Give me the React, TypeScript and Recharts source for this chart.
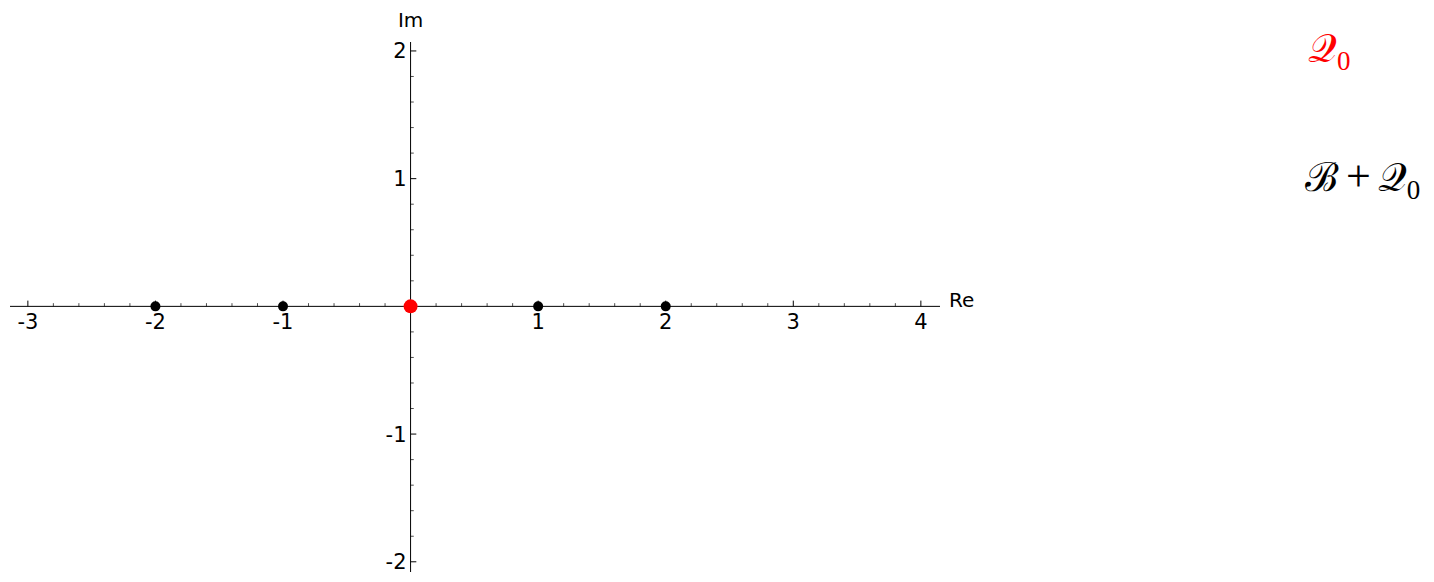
import { ReferenceDot, ReferenceLine, Scatter, ScatterChart, XAxis, YAxis } from "recharts";

// points on the real axis
const blackRe = [-2, -1, 1, 2];
const blackIm = [0, 0, 0, 0];
const redRe = [0];
const redIm = [0];

const xLabels = [-3, -2, -1, 1, 2, 3, 4];
const yLabels = [-2, -1, 1, 2];

const xDomain: [number, number] = [-3.14, 4.15];
const yDomain: [number, number] = [-2.08, 2.07];

const minorStep = 0.2;
const buildMinor = (from: number, to: number) => {
  const out: number[] = [];
  for (let i = Math.ceil(from / minorStep); i * minorStep <= to; i++) {
    const v = Number((i * minorStep).toFixed(2));
    if (v !== 0 && !Number.isInteger(v)) out.push(v);
  }
  return out;
};
const xMinor = buildMinor(-3, 4);
const yMinor = buildMinor(-2, 2);

const blackPoints = blackRe.map((re, i) => ({ re, im: blackIm[i] }));
const redPoints = redRe.map((re, i) => ({ re, im: redIm[i] }));

const FONT = "DejaVu Sans, sans-serif";
const MAJOR = 0.045;
const MINOR = 0.025;

// label drawn relative to the reference dot's position
const textAt = (text: string, dx: number, dy: number, anchor: "start" | "middle" | "end", size = 21) =>
  (props: any) => {
    const vb = props.viewBox || {};
    const cx = (vb.x ?? 0) + (vb.width ?? 0) / 2;
    const cy = (vb.y ?? 0) + (vb.height ?? 0) / 2;
    return (
      <text x={cx + dx} y={cy + dy} textAnchor={anchor} fontSize={size} fontFamily={FONT} fill="#000">
        {text}
      </text>
    );
  };

const mathStyle = {
  position: "absolute" as const,
  fontFamily: "DejaVu Serif, serif",
  fontSize: 40,
  lineHeight: 1,
  whiteSpace: "nowrap" as const,
};
const subStyle = { fontSize: 27, verticalAlign: -8, fontFamily: "Liberation Serif, serif" };

export default function App() {
  return (
    <div style={{ position: "absolute", left: 0, top: 0, width: 1434, height: 582, background: "#fff" }}>
      <ScatterChart width={1434} height={582} margin={{ top: 42, right: 494, bottom: 10, left: 10 }}>
        <XAxis type="number" dataKey="re" domain={xDomain} hide allowDataOverflow />
        <YAxis type="number" dataKey="im" domain={yDomain} hide allowDataOverflow />
        <ReferenceLine y={0} stroke="#000" strokeWidth={1} />
        <ReferenceLine x={0} stroke="#000" strokeWidth={1} />
        {xLabels.map((v) => (
          <ReferenceLine key={`xM${v}`} segment={[{ x: v, y: 0 }, { x: v, y: MAJOR }]} stroke="#000" />
        ))}
        {xMinor.map((v) => (
          <ReferenceLine key={`xm${v}`} segment={[{ x: v, y: 0 }, { x: v, y: MINOR }]} stroke="#000" strokeWidth={0.7} />
        ))}
        {yLabels.map((v) => (
          <ReferenceLine key={`yM${v}`} segment={[{ x: 0, y: v }, { x: MAJOR, y: v }]} stroke="#000" />
        ))}
        {yMinor.map((v) => (
          <ReferenceLine key={`ym${v}`} segment={[{ x: 0, y: v }, { x: MINOR, y: v }]} stroke="#000" strokeWidth={0.7} />
        ))}
        {xLabels.map((v) => (
          <ReferenceDot
            key={`xl${v}`}
            x={v}
            y={0}
            r={0}
            fill="none"
            stroke="none"
            label={{ content: textAt(String(v), 0, 23, "middle") }}
          />
        ))}
        {yLabels.map((v) => (
          <ReferenceDot
            key={`yl${v}`}
            x={0}
            y={v}
            r={0}
            fill="none"
            stroke="none"
            label={{ content: textAt(String(v), -4, 7.5, "end") }}
          />
        ))}
        <ReferenceDot
          x={xDomain[1]}
          y={0}
          r={0}
          fill="none"
          stroke="none"
          label={{ content: textAt("Re", 9, 1, "start", 20) }}
        />
        <ReferenceDot
          x={0}
          y={yDomain[1]}
          r={0}
          fill="none"
          stroke="none"
          label={{ content: textAt("Im", 0, -15, "middle", 20) }}
        />
        <Scatter
          data={blackPoints}
          isAnimationActive={false}
          shape={(p: any) => <circle cx={p.cx} cy={p.cy} r={5} fill="#000" />}
        />
        <Scatter
          data={redPoints}
          isAnimationActive={false}
          shape={(p: any) => <circle cx={p.cx} cy={p.cy} r={7} fill="#ff0000" />}
        />
      </ScatterChart>
      <div style={{ ...mathStyle, left: 1308, top: 28, color: "#ff0000" }}>
        𝒬<sub style={subStyle}>0</sub>
      </div>
      <div style={{ ...mathStyle, left: 1305, top: 155, color: "#000" }}>
        ℬ<span style={{ margin: "0 7px", fontFamily: "Liberation Serif, serif", fontSize: 44 }}>+</span>𝒬
        <sub style={subStyle}>0</sub>
      </div>
    </div>
  );
}
